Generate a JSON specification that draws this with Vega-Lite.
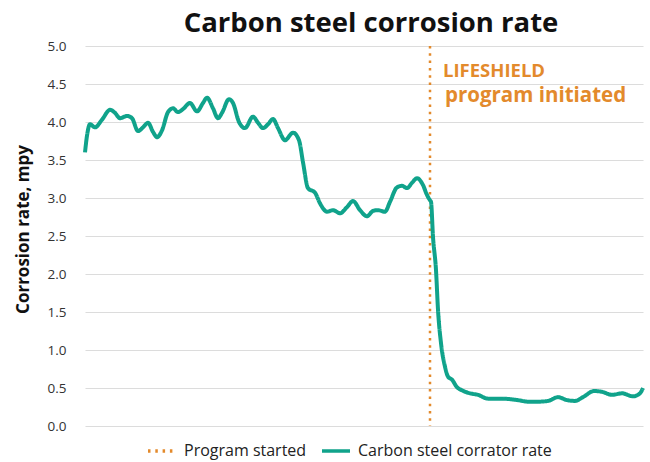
{
  "$schema": "https://vega.github.io/schema/vega-lite/v6.json",
  "width": 558,
  "height": 380,
  "autosize": {"type": "none"},
  "padding": {"left": 85, "top": 46, "right": 7, "bottom": 36},
  "background": "white",
  "title": {
    "text": "Carbon steel corrosion rate",
    "font": "Open Sans",
    "fontSize": 27.5,
    "fontWeight": "bold",
    "color": "#111111",
    "anchor": "middle",
    "dx": 7,
    "offset": 0
  },
  "datasets": {
    "rate": [
      {"t": 0, "v": 3.6}, {"t": 2, "v": 3.82}, {"t": 5, "v": 3.97}, {"t": 10, "v": 3.93}, {"t": 17, "v": 4.03},
      {"t": 25, "v": 4.16}, {"t": 30, "v": 4.12}, {"t": 35, "v": 4.05}, {"t": 42, "v": 4.08}, {"t": 47, "v": 4.05},
      {"t": 53, "v": 3.88}, {"t": 58, "v": 3.93}, {"t": 63, "v": 3.99}, {"t": 68, "v": 3.87}, {"t": 72, "v": 3.8},
      {"t": 77, "v": 3.89}, {"t": 83, "v": 4.13}, {"t": 88, "v": 4.18}, {"t": 93, "v": 4.13}, {"t": 98, "v": 4.17},
      {"t": 105, "v": 4.25}, {"t": 112, "v": 4.14}, {"t": 118, "v": 4.25}, {"t": 122, "v": 4.32}, {"t": 128, "v": 4.18},
      {"t": 133, "v": 4.05}, {"t": 137, "v": 4.12}, {"t": 144, "v": 4.3}, {"t": 148, "v": 4.25}, {"t": 154, "v": 4.0},
      {"t": 160, "v": 3.92}, {"t": 168, "v": 4.07}, {"t": 173, "v": 3.99}, {"t": 178, "v": 3.92}, {"t": 183, "v": 3.97},
      {"t": 188, "v": 4.04}, {"t": 193, "v": 3.92}, {"t": 200, "v": 3.76}, {"t": 208, "v": 3.86}, {"t": 214, "v": 3.76},
      {"t": 218, "v": 3.47}, {"t": 223, "v": 3.13}, {"t": 230, "v": 3.07}, {"t": 235, "v": 2.93}, {"t": 242, "v": 2.82},
      {"t": 248, "v": 2.84}, {"t": 255, "v": 2.8}, {"t": 262, "v": 2.88}, {"t": 268, "v": 2.96}, {"t": 275, "v": 2.84},
      {"t": 282, "v": 2.76}, {"t": 288, "v": 2.83}, {"t": 293, "v": 2.84}, {"t": 300, "v": 2.82}, {"t": 305, "v": 2.95},
      {"t": 312, "v": 3.14}, {"t": 317, "v": 3.16}, {"t": 322, "v": 3.13}, {"t": 327, "v": 3.2}, {"t": 332, "v": 3.26},
      {"t": 338, "v": 3.17}, {"t": 342, "v": 3.04}, {"t": 345, "v": 2.97}, {"t": 346, "v": 2.95}, {"t": 348, "v": 2.49},
      {"t": 351, "v": 2.05}, {"t": 353, "v": 1.53}, {"t": 356, "v": 1.09}, {"t": 360, "v": 0.78}, {"t": 363, "v": 0.65},
      {"t": 367, "v": 0.61}, {"t": 372, "v": 0.51}, {"t": 377, "v": 0.47}, {"t": 385, "v": 0.43}, {"t": 393, "v": 0.41},
      {"t": 403, "v": 0.36}, {"t": 417, "v": 0.36}, {"t": 433, "v": 0.34}, {"t": 443, "v": 0.32}, {"t": 453, "v": 0.32},
      {"t": 463, "v": 0.33}, {"t": 473, "v": 0.38}, {"t": 482, "v": 0.34}, {"t": 490, "v": 0.33}, {"t": 498, "v": 0.38},
      {"t": 509, "v": 0.46}, {"t": 517, "v": 0.45}, {"t": 527, "v": 0.41}, {"t": 537, "v": 0.43}, {"t": 548, "v": 0.39},
      {"t": 555, "v": 0.43}, {"t": 558, "v": 0.5}
    ],
    "start": [{"t": 345, "series": "Program started"}],
    "notes": [
      {"t": 358, "v": 4.59, "label": "LIFESHIELD", "size": 18.5},
      {"t": 360, "v": 4.26, "label": "program initiated", "size": 20.5}
    ]
  },
  "layer": [
    {
      "data": {"name": "start"},
      "mark": {"type": "rule", "strokeWidth": 2.5},
      "encoding": {
        "x": {"field": "t", "type": "quantitative", "scale": {"domain": [0, 558], "nice": false, "zero": false}, "axis": null},
        "color": {"field": "series", "type": "nominal", "title": null,
          "scale": {"domain": ["Program started", "Carbon steel corrator rate"], "range": ["#e38a2c", "#10a38b"]}},
        "strokeDash": {"field": "series", "type": "nominal", "title": null,
          "scale": {"domain": ["Program started", "Carbon steel corrator rate"], "range": [[2.5, 4.8], [1, 0]]}}
      }
    },
    {
      "data": {"name": "rate"},
      "transform": [{"calculate": "'Carbon steel corrator rate'", "as": "series"}],
      "mark": {"type": "line", "strokeWidth": 4, "interpolate": "monotone"},
      "encoding": {
        "x": {"field": "t", "type": "quantitative", "axis": null},
        "y": {"field": "v", "type": "quantitative", "scale": {"domain": [0, 5], "nice": false},
          "axis": {"title": "Corrosion rate, mpy", "values": [0, 0.5, 1, 1.5, 2, 2.5, 3, 3.5, 4, 4.5, 5], "format": ".1f", "labelOverlap": false}},
        "color": {"field": "series", "type": "nominal", "title": null},
        "strokeDash": {"field": "series", "type": "nominal", "title": null}
      }
    },
    {
      "data": {"name": "notes"},
      "mark": {"type": "text", "align": "left", "baseline": "alphabetic", "font": "Open Sans", "fontWeight": "bold", "color": "#e38a2c"},
      "encoding": {
        "x": {"field": "t", "type": "quantitative"},
        "y": {"field": "v", "type": "quantitative",
          "axis": {"title": "Corrosion rate, mpy", "values": [0, 0.5, 1, 1.5, 2, 2.5, 3, 3.5, 4, 4.5, 5], "format": ".1f", "labelOverlap": false}},
        "text": {"field": "label"},
        "size": {"field": "size", "type": "quantitative", "scale": null}
      }
    }
  ],
  "config": {
    "view": {"stroke": null},
    "title": {"dy": -2},
    "axisY": {
      "grid": true,
      "gridColor": "#dcdcdc",
      "gridWidth": 1.2,
      "domain": false,
      "ticks": false,
      "labelPadding": 19,
      "labelFont": "Open Sans",
      "labelFontSize": 13.5,
      "labelColor": "#333333",
      "titleFont": "Open Sans",
      "titleFontSize": 17,
      "titleFontWeight": "bold",
      "titleColor": "#111111",
      "titleAngle": 270,
      "titleX": -57,
      "titleY": 183,
      "titleAlign": "center",
      "titleBaseline": "alphabetic"
    },
    "legend": {
      "orient": "none",
      "legendX": 61,
      "legendY": 389,
      "direction": "horizontal",
      "symbolType": "stroke",
      "symbolSize": 784,
      "symbolStrokeWidth": 3.5,
      "labelFont": "Open Sans",
      "labelFontSize": 16,
      "labelColor": "#222222",
      "labelOffset": 6,
      "labelLimit": 400,
      "columnPadding": 8
    }
  }
}
